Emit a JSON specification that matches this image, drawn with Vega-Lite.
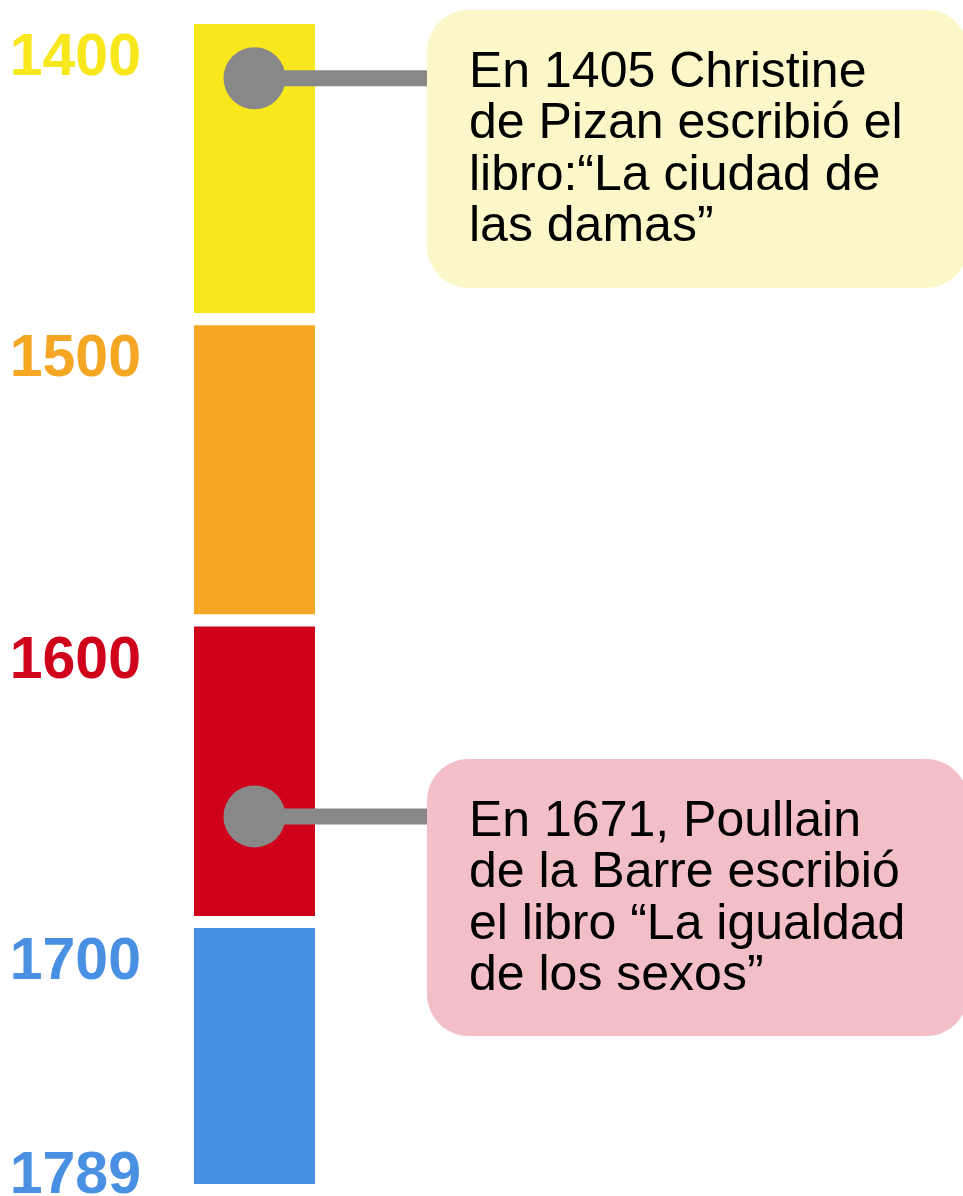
{
  "$schema": "https://vega.github.io/schema/vega-lite/v6.json",
  "width": 963,
  "height": 1196,
  "autosize": {"type": "none"},
  "padding": 0,
  "background": "white",
  "config": {"view": {"stroke": null}},
  "datasets": {
    "siglos": [
      {"siglo": "1400", "inicio": 1400, "fin": 1500},
      {"siglo": "1500", "inicio": 1500, "fin": 1600},
      {"siglo": "1600", "inicio": 1600, "fin": 1700},
      {"siglo": "1700", "inicio": 1700, "fin": 1789}
    ],
    "eventos": [
      {"id": "pizan", "anio": 1405, "marca": 1420, "caja_inicio": 1397.3, "caja_fin": 1489.6, "texto": "En 1405 Christine\nde Pizan escribió el\nlibro:“La ciudad de\nlas damas”"},
      {"id": "poullain", "anio": 1671, "marca": 1665, "caja_inicio": 1645.9, "caja_fin": 1737.9, "texto": "En 1671, Poullain\nde la Barre escribió\nel libro “La igualdad\nde los sexos”"}
    ]
  },
  "resolve": {"scale": {"color": "independent"}},
  "layer": [
    {
      "data": {"name": "siglos"},
      "mark": {"type": "rect", "stroke": "white", "strokeWidth": 12},
      "encoding": {
        "x": {"datum": 188, "type": "quantitative", "scale": {"domain": [0, 963], "nice": false, "zero": false}, "axis": null},
        "x2": {"datum": 321},
        "y": {"field": "inicio", "type": "quantitative", "scale": {"domain": [1394.03, 1790.97], "reverse": true, "nice": false, "zero": false}, "axis": null},
        "y2": {"field": "fin"},
        "color": {"field": "siglo", "type": "nominal", "scale": {"domain": ["1400", "1500", "1600", "1700"], "range": ["#F8E71C", "#F5A623", "#D0021B", "#4A90E2"]}, "legend": null}
      }
    },
    {
      "data": {"name": "eventos"},
      "mark": {"type": "rule", "color": "#888888", "strokeWidth": 16},
      "encoding": {
        "x": {"datum": 255, "type": "quantitative"},
        "x2": {"datum": 428},
        "y": {"field": "marca", "type": "quantitative"}
      }
    },
    {
      "data": {"name": "eventos"},
      "mark": {"type": "circle", "color": "#888888", "opacity": 1, "size": 3850},
      "encoding": {
        "x": {"datum": 254.5, "type": "quantitative"},
        "y": {"field": "marca", "type": "quantitative"}
      }
    },
    {
      "data": {"name": "eventos"},
      "mark": {"type": "rect", "cornerRadius": 42},
      "encoding": {
        "x": {"datum": 427, "type": "quantitative"},
        "x2": {"datum": 968},
        "y": {"field": "caja_inicio", "type": "quantitative"},
        "y2": {"field": "caja_fin"},
        "color": {"field": "id", "type": "nominal", "scale": {"domain": ["pizan", "poullain"], "range": ["#FBF7C8", "#F2BFC6"]}, "legend": null}
      }
    },
    {
      "data": {"name": "eventos"},
      "mark": {"type": "text", "align": "left", "baseline": "top", "dy": 37, "fontSize": 50, "lineHeight": 51.5, "font": "Liberation Sans", "color": "#000000", "lineBreak": "\n"},
      "encoding": {
        "x": {"datum": 469, "type": "quantitative"},
        "y": {"field": "caja_inicio", "type": "quantitative"},
        "text": {"field": "texto"}
      }
    },
    {
      "data": {"name": "siglos"},
      "mark": {"type": "text", "align": "right", "baseline": "alphabetic", "dy": 57, "fontSize": 59, "fontWeight": "bold", "font": "Liberation Sans"},
      "encoding": {
        "x": {"datum": 141, "type": "quantitative"},
        "y": {"field": "inicio", "type": "quantitative"},
        "text": {"field": "inicio", "type": "quantitative", "format": "d"},
        "color": {"field": "siglo", "type": "nominal", "scale": {"domain": ["1400", "1500", "1600", "1700"], "range": ["#F8E71C", "#F5A623", "#D0021B", "#4A90E2"]}, "legend": null}
      }
    },
    {
      "data": {"name": "siglos"},
      "transform": [{"filter": "datum.siglo === '1700'"}],
      "mark": {"type": "text", "align": "right", "baseline": "alphabetic", "dy": 3, "fontSize": 59, "fontWeight": "bold", "font": "Liberation Sans", "color": "#4A90E2"},
      "encoding": {
        "x": {"datum": 141, "type": "quantitative"},
        "y": {"field": "fin", "type": "quantitative"},
        "text": {"field": "fin", "type": "quantitative", "format": "d"}
      }
    }
  ]
}
